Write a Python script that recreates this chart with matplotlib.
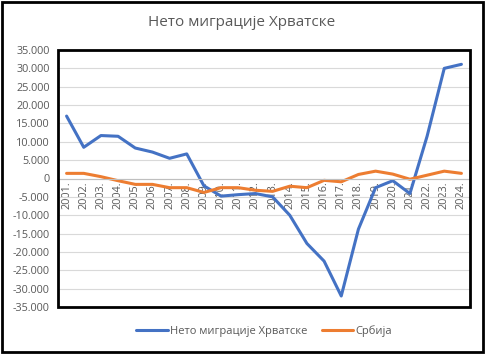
import matplotlib.pyplot as plt
from matplotlib.patches import Rectangle
from matplotlib.ticker import FuncFormatter

plt.rcParams['font.family'] = ['Open Sans', 'DejaVu Sans']

years = [f"{y}." for y in range(2001, 2025)]
croatia = [17000, 8500, 11700, 11500, 8300, 7200, 5500, 6700, -2000, -4800,
           -4400, -4100, -5000, -10000, -17700, -22500, -32000, -13800,
           -2500, -600, -4100, 11500, 30000, 31100]
serbia = [1400, 1400, 500, -600, -1600, -1600, -2500, -2500, -3800, -2500,
          -2500, -3200, -3500, -2100, -2500, -500, -900, 1100,
          2000, 1200, -200, 900, 2000, 1400]

title = "Нето миграције Хрватске"
label_hr = "Нето миграције Хрватске"
label_rs = "Србија"

text_col = '#595959'

fig = plt.figure(figsize=(4.9, 3.6), dpi=100)
ax = fig.add_axes([58 / 490, 1 - 307 / 360, 412 / 490, 257 / 360])

# x axis crosses at zero (set before tick labels, it resets them)
for s in ['top', 'left', 'right']:
    ax.spines[s].set_visible(False)
ax.spines['bottom'].set_position(('data', 0))
ax.spines['bottom'].set_color('#bfbfbf')
ax.spines['bottom'].set_linewidth(0.8)

x = list(range(len(years)))
ax.plot(x, croatia, color='#4472C4', lw=2.2, label=label_hr, solid_capstyle='round')
ax.plot(x, serbia, color='#ED7D31', lw=2.2, label=label_rs, solid_capstyle='round')

ax.set_xlim(-0.5, len(years) - 0.5)
ax.set_ylim(-35000, 35000)
ax.set_yticks(range(-35000, 35001, 5000))
ax.yaxis.set_major_formatter(FuncFormatter(lambda v, p: f"{int(v):,}".replace(',', '.')))
ax.grid(axis='y', color='#d9d9d9', lw=0.8)
ax.set_axisbelow(True)

ax.set_xticks(x)
ax.set_xticklabels(years, rotation=90, fontsize=7.8, color=text_col)
ax.tick_params(axis='x', length=0, pad=2)
ax.tick_params(axis='y', length=0, pad=6, labelsize=7.8, labelcolor=text_col)

# thick box round the plot area
ax.add_patch(Rectangle((0, 0), 1, 1, transform=ax.transAxes, fill=False,
                       ec='black', lw=2, clip_on=False, zorder=5))

fig.text(242 / 490, 1 - 22 / 360, title, ha='center', va='center',
         fontsize=11, color=text_col)

ax.legend(loc='center', bbox_to_anchor=(0.5, -0.095), ncol=2, frameon=False,
          fontsize=8, labelcolor=text_col, handlelength=2.8, handletextpad=0.2,
          columnspacing=1.3)

# outer border
fig.add_artist(Rectangle((2 / 490, 1 - 352 / 360), 481 / 490, 350 / 360,
                         transform=fig.transFigure, fill=False, ec='black', lw=2))

fig.savefig('out.png', dpi=100)
